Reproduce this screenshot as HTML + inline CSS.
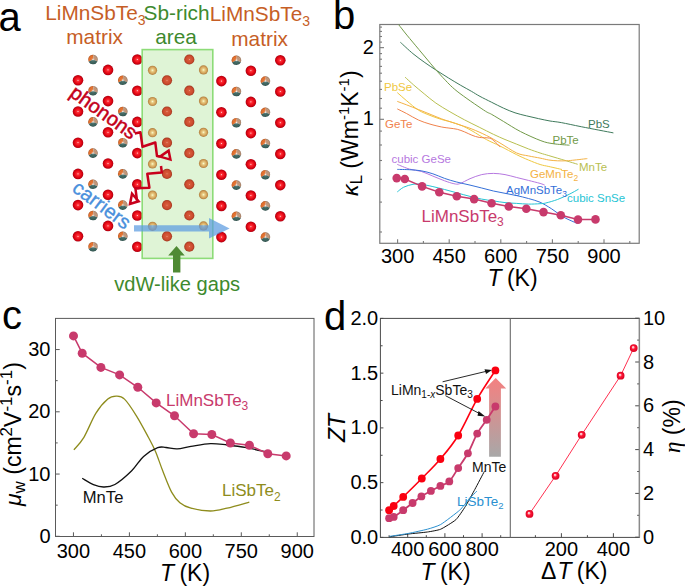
<!DOCTYPE html><html><head><meta charset="utf-8"><style>html,body{margin:0;padding:0;background:#fff;overflow:hidden}svg{display:block}</style></head><body><svg width="685" height="586" viewBox="0 0 685 586" font-family="Liberation Sans, sans-serif">
<defs>
<radialGradient id="gRed" cx="0.5" cy="0.5" r="0.5" fx="0.5" fy="0.5">
 <stop offset="0" stop-color="#ffe0e0"/><stop offset="0.18" stop-color="#ff3038"/><stop offset="0.6" stop-color="#e80a16"/><stop offset="0.9" stop-color="#c00010"/><stop offset="1" stop-color="#a00010"/></radialGradient>
<radialGradient id="gTan" cx="0.5" cy="0.5" r="0.5" fx="0.5" fy="0.5">
 <stop offset="0" stop-color="#fbfad0"/><stop offset="0.3" stop-color="#e8cc84"/><stop offset="0.7" stop-color="#d4a25a"/><stop offset="1" stop-color="#ae7e3e"/></radialGradient>
<radialGradient id="gOr" cx="0.5" cy="0.5" r="0.5" fx="0.5" fy="0.5">
 <stop offset="0" stop-color="#f0a898"/><stop offset="0.16" stop-color="#d85c3c"/><stop offset="0.7" stop-color="#cc4a2e"/><stop offset="1" stop-color="#a03820"/></radialGradient>
<radialGradient id="gShade" cx="0.5" cy="0.5" r="0.5" fx="0.5" fy="0.5">
 <stop offset="0" stop-color="#ffffff" stop-opacity="0.9"/><stop offset="0.25" stop-color="#ffffff" stop-opacity="0.15"/><stop offset="0.75" stop-color="#000000" stop-opacity="0"/><stop offset="1" stop-color="#000000" stop-opacity="0.25"/></radialGradient>
<radialGradient id="gEta" cx="0.5" cy="0.5" r="0.5" fx="0.4" fy="0.36">
 <stop offset="0" stop-color="#ffffff"/><stop offset="0.22" stop-color="#ffb0b8"/><stop offset="0.45" stop-color="#ff1838"/><stop offset="1" stop-color="#d80020"/></radialGradient>
<linearGradient id="gArrow" x1="0" y1="0" x2="0" y2="1">
 <stop offset="0" stop-color="#f48080"/><stop offset="1" stop-color="#a8a8a8"/></linearGradient>
</defs>
<rect x="0" y="0" width="685" height="586" fill="#fff"/>
<rect x="142.2" y="49.6" width="70.6" height="208.8" fill="#dff4d6"/>
<circle cx="78.00" cy="80.30" r="5.3" fill="url(#gRed)"/>
<circle cx="78.00" cy="111.50" r="5.3" fill="url(#gRed)"/>
<circle cx="78.00" cy="142.70" r="5.3" fill="url(#gRed)"/>
<circle cx="78.00" cy="173.90" r="5.3" fill="url(#gRed)"/>
<circle cx="78.00" cy="205.10" r="5.3" fill="url(#gRed)"/>
<circle cx="78.00" cy="236.30" r="5.3" fill="url(#gRed)"/>
<circle cx="108.00" cy="69.90" r="5.3" fill="url(#gRed)"/>
<circle cx="108.00" cy="101.10" r="5.3" fill="url(#gRed)"/>
<circle cx="108.00" cy="132.30" r="5.3" fill="url(#gRed)"/>
<circle cx="108.00" cy="163.50" r="5.3" fill="url(#gRed)"/>
<circle cx="108.00" cy="194.70" r="5.3" fill="url(#gRed)"/>
<circle cx="108.00" cy="225.90" r="5.3" fill="url(#gRed)"/>
<circle cx="137.30" cy="59.50" r="5.3" fill="url(#gRed)"/>
<circle cx="137.30" cy="90.70" r="5.3" fill="url(#gRed)"/>
<circle cx="137.30" cy="121.90" r="5.3" fill="url(#gRed)"/>
<circle cx="137.30" cy="153.10" r="5.3" fill="url(#gRed)"/>
<circle cx="137.30" cy="184.30" r="5.3" fill="url(#gRed)"/>
<circle cx="137.30" cy="215.50" r="5.3" fill="url(#gRed)"/>
<circle cx="137.30" cy="246.70" r="5.3" fill="url(#gRed)"/>
<circle cx="221.40" cy="81.10" r="5.3" fill="url(#gRed)"/>
<circle cx="221.40" cy="112.30" r="5.3" fill="url(#gRed)"/>
<circle cx="221.40" cy="143.50" r="5.3" fill="url(#gRed)"/>
<circle cx="221.40" cy="174.70" r="5.3" fill="url(#gRed)"/>
<circle cx="221.40" cy="205.90" r="5.3" fill="url(#gRed)"/>
<circle cx="221.40" cy="237.10" r="5.3" fill="url(#gRed)"/>
<circle cx="250.90" cy="70.70" r="5.3" fill="url(#gRed)"/>
<circle cx="250.90" cy="101.90" r="5.3" fill="url(#gRed)"/>
<circle cx="250.90" cy="133.10" r="5.3" fill="url(#gRed)"/>
<circle cx="250.90" cy="164.30" r="5.3" fill="url(#gRed)"/>
<circle cx="250.90" cy="195.50" r="5.3" fill="url(#gRed)"/>
<circle cx="250.90" cy="226.70" r="5.3" fill="url(#gRed)"/>
<circle cx="280.30" cy="60.30" r="5.3" fill="url(#gRed)"/>
<circle cx="280.30" cy="91.50" r="5.3" fill="url(#gRed)"/>
<circle cx="280.30" cy="122.70" r="5.3" fill="url(#gRed)"/>
<circle cx="280.30" cy="153.90" r="5.3" fill="url(#gRed)"/>
<circle cx="280.30" cy="185.10" r="5.3" fill="url(#gRed)"/>
<circle cx="280.30" cy="216.30" r="5.3" fill="url(#gRed)"/>
<path d="M93.00,59.50 L88.72,61.68 A4.8,4.8 0 0 1 93.42,54.72 Z" fill="#e8722e"/>
<path d="M93.00,59.50 L93.42,54.72 A4.8,4.8 0 0 1 97.39,61.45 Z" fill="#c4987a"/>
<path d="M93.00,59.50 L97.39,61.45 A4.8,4.8 0 0 1 88.72,61.68 Z" fill="#3e6660"/>
<circle cx="93.00" cy="59.50" r="4.8" fill="url(#gShade)"/>
<path d="M93.00,90.70 L88.72,92.88 A4.8,4.8 0 0 1 93.42,85.92 Z" fill="#e8722e"/>
<path d="M93.00,90.70 L93.42,85.92 A4.8,4.8 0 0 1 97.39,92.65 Z" fill="#c4987a"/>
<path d="M93.00,90.70 L97.39,92.65 A4.8,4.8 0 0 1 88.72,92.88 Z" fill="#3e6660"/>
<circle cx="93.00" cy="90.70" r="4.8" fill="url(#gShade)"/>
<path d="M93.00,121.90 L88.72,124.08 A4.8,4.8 0 0 1 93.42,117.12 Z" fill="#e8722e"/>
<path d="M93.00,121.90 L93.42,117.12 A4.8,4.8 0 0 1 97.39,123.85 Z" fill="#c4987a"/>
<path d="M93.00,121.90 L97.39,123.85 A4.8,4.8 0 0 1 88.72,124.08 Z" fill="#3e6660"/>
<circle cx="93.00" cy="121.90" r="4.8" fill="url(#gShade)"/>
<path d="M93.00,153.10 L88.72,155.28 A4.8,4.8 0 0 1 93.42,148.32 Z" fill="#e8722e"/>
<path d="M93.00,153.10 L93.42,148.32 A4.8,4.8 0 0 1 97.39,155.05 Z" fill="#c4987a"/>
<path d="M93.00,153.10 L97.39,155.05 A4.8,4.8 0 0 1 88.72,155.28 Z" fill="#3e6660"/>
<circle cx="93.00" cy="153.10" r="4.8" fill="url(#gShade)"/>
<path d="M93.00,184.30 L88.72,186.48 A4.8,4.8 0 0 1 93.42,179.52 Z" fill="#e8722e"/>
<path d="M93.00,184.30 L93.42,179.52 A4.8,4.8 0 0 1 97.39,186.25 Z" fill="#c4987a"/>
<path d="M93.00,184.30 L97.39,186.25 A4.8,4.8 0 0 1 88.72,186.48 Z" fill="#3e6660"/>
<circle cx="93.00" cy="184.30" r="4.8" fill="url(#gShade)"/>
<path d="M93.00,215.50 L88.72,217.68 A4.8,4.8 0 0 1 93.42,210.72 Z" fill="#e8722e"/>
<path d="M93.00,215.50 L93.42,210.72 A4.8,4.8 0 0 1 97.39,217.45 Z" fill="#c4987a"/>
<path d="M93.00,215.50 L97.39,217.45 A4.8,4.8 0 0 1 88.72,217.68 Z" fill="#3e6660"/>
<circle cx="93.00" cy="215.50" r="4.8" fill="url(#gShade)"/>
<path d="M93.00,246.70 L88.72,248.88 A4.8,4.8 0 0 1 93.42,241.92 Z" fill="#e8722e"/>
<path d="M93.00,246.70 L93.42,241.92 A4.8,4.8 0 0 1 97.39,248.65 Z" fill="#c4987a"/>
<path d="M93.00,246.70 L97.39,248.65 A4.8,4.8 0 0 1 88.72,248.88 Z" fill="#3e6660"/>
<circle cx="93.00" cy="246.70" r="4.8" fill="url(#gShade)"/>
<path d="M122.80,80.30 L118.52,82.48 A4.8,4.8 0 0 1 123.22,75.52 Z" fill="#e8722e"/>
<path d="M122.80,80.30 L123.22,75.52 A4.8,4.8 0 0 1 127.19,82.25 Z" fill="#c4987a"/>
<path d="M122.80,80.30 L127.19,82.25 A4.8,4.8 0 0 1 118.52,82.48 Z" fill="#3e6660"/>
<circle cx="122.80" cy="80.30" r="4.8" fill="url(#gShade)"/>
<path d="M122.80,111.50 L118.52,113.68 A4.8,4.8 0 0 1 123.22,106.72 Z" fill="#e8722e"/>
<path d="M122.80,111.50 L123.22,106.72 A4.8,4.8 0 0 1 127.19,113.45 Z" fill="#c4987a"/>
<path d="M122.80,111.50 L127.19,113.45 A4.8,4.8 0 0 1 118.52,113.68 Z" fill="#3e6660"/>
<circle cx="122.80" cy="111.50" r="4.8" fill="url(#gShade)"/>
<path d="M122.80,142.70 L118.52,144.88 A4.8,4.8 0 0 1 123.22,137.92 Z" fill="#e8722e"/>
<path d="M122.80,142.70 L123.22,137.92 A4.8,4.8 0 0 1 127.19,144.65 Z" fill="#c4987a"/>
<path d="M122.80,142.70 L127.19,144.65 A4.8,4.8 0 0 1 118.52,144.88 Z" fill="#3e6660"/>
<circle cx="122.80" cy="142.70" r="4.8" fill="url(#gShade)"/>
<path d="M122.80,173.90 L118.52,176.08 A4.8,4.8 0 0 1 123.22,169.12 Z" fill="#e8722e"/>
<path d="M122.80,173.90 L123.22,169.12 A4.8,4.8 0 0 1 127.19,175.85 Z" fill="#c4987a"/>
<path d="M122.80,173.90 L127.19,175.85 A4.8,4.8 0 0 1 118.52,176.08 Z" fill="#3e6660"/>
<circle cx="122.80" cy="173.90" r="4.8" fill="url(#gShade)"/>
<path d="M122.80,205.10 L118.52,207.28 A4.8,4.8 0 0 1 123.22,200.32 Z" fill="#e8722e"/>
<path d="M122.80,205.10 L123.22,200.32 A4.8,4.8 0 0 1 127.19,207.05 Z" fill="#c4987a"/>
<path d="M122.80,205.10 L127.19,207.05 A4.8,4.8 0 0 1 118.52,207.28 Z" fill="#3e6660"/>
<circle cx="122.80" cy="205.10" r="4.8" fill="url(#gShade)"/>
<path d="M122.80,236.30 L118.52,238.48 A4.8,4.8 0 0 1 123.22,231.52 Z" fill="#e8722e"/>
<path d="M122.80,236.30 L123.22,231.52 A4.8,4.8 0 0 1 127.19,238.25 Z" fill="#c4987a"/>
<path d="M122.80,236.30 L127.19,238.25 A4.8,4.8 0 0 1 118.52,238.48 Z" fill="#3e6660"/>
<circle cx="122.80" cy="236.30" r="4.8" fill="url(#gShade)"/>
<path d="M236.40,60.30 L232.12,62.48 A4.8,4.8 0 0 1 236.82,55.52 Z" fill="#e8722e"/>
<path d="M236.40,60.30 L236.82,55.52 A4.8,4.8 0 0 1 240.79,62.25 Z" fill="#c4987a"/>
<path d="M236.40,60.30 L240.79,62.25 A4.8,4.8 0 0 1 232.12,62.48 Z" fill="#3e6660"/>
<circle cx="236.40" cy="60.30" r="4.8" fill="url(#gShade)"/>
<path d="M236.40,91.50 L232.12,93.68 A4.8,4.8 0 0 1 236.82,86.72 Z" fill="#e8722e"/>
<path d="M236.40,91.50 L236.82,86.72 A4.8,4.8 0 0 1 240.79,93.45 Z" fill="#c4987a"/>
<path d="M236.40,91.50 L240.79,93.45 A4.8,4.8 0 0 1 232.12,93.68 Z" fill="#3e6660"/>
<circle cx="236.40" cy="91.50" r="4.8" fill="url(#gShade)"/>
<path d="M236.40,122.70 L232.12,124.88 A4.8,4.8 0 0 1 236.82,117.92 Z" fill="#e8722e"/>
<path d="M236.40,122.70 L236.82,117.92 A4.8,4.8 0 0 1 240.79,124.65 Z" fill="#c4987a"/>
<path d="M236.40,122.70 L240.79,124.65 A4.8,4.8 0 0 1 232.12,124.88 Z" fill="#3e6660"/>
<circle cx="236.40" cy="122.70" r="4.8" fill="url(#gShade)"/>
<path d="M236.40,153.90 L232.12,156.08 A4.8,4.8 0 0 1 236.82,149.12 Z" fill="#e8722e"/>
<path d="M236.40,153.90 L236.82,149.12 A4.8,4.8 0 0 1 240.79,155.85 Z" fill="#c4987a"/>
<path d="M236.40,153.90 L240.79,155.85 A4.8,4.8 0 0 1 232.12,156.08 Z" fill="#3e6660"/>
<circle cx="236.40" cy="153.90" r="4.8" fill="url(#gShade)"/>
<path d="M236.40,185.10 L232.12,187.28 A4.8,4.8 0 0 1 236.82,180.32 Z" fill="#e8722e"/>
<path d="M236.40,185.10 L236.82,180.32 A4.8,4.8 0 0 1 240.79,187.05 Z" fill="#c4987a"/>
<path d="M236.40,185.10 L240.79,187.05 A4.8,4.8 0 0 1 232.12,187.28 Z" fill="#3e6660"/>
<circle cx="236.40" cy="185.10" r="4.8" fill="url(#gShade)"/>
<path d="M236.40,216.30 L232.12,218.48 A4.8,4.8 0 0 1 236.82,211.52 Z" fill="#e8722e"/>
<path d="M236.40,216.30 L236.82,211.52 A4.8,4.8 0 0 1 240.79,218.25 Z" fill="#c4987a"/>
<path d="M236.40,216.30 L240.79,218.25 A4.8,4.8 0 0 1 232.12,218.48 Z" fill="#3e6660"/>
<circle cx="236.40" cy="216.30" r="4.8" fill="url(#gShade)"/>
<path d="M265.40,81.10 L261.12,83.28 A4.8,4.8 0 0 1 265.82,76.32 Z" fill="#e8722e"/>
<path d="M265.40,81.10 L265.82,76.32 A4.8,4.8 0 0 1 269.79,83.05 Z" fill="#c4987a"/>
<path d="M265.40,81.10 L269.79,83.05 A4.8,4.8 0 0 1 261.12,83.28 Z" fill="#3e6660"/>
<circle cx="265.40" cy="81.10" r="4.8" fill="url(#gShade)"/>
<path d="M265.40,112.30 L261.12,114.48 A4.8,4.8 0 0 1 265.82,107.52 Z" fill="#e8722e"/>
<path d="M265.40,112.30 L265.82,107.52 A4.8,4.8 0 0 1 269.79,114.25 Z" fill="#c4987a"/>
<path d="M265.40,112.30 L269.79,114.25 A4.8,4.8 0 0 1 261.12,114.48 Z" fill="#3e6660"/>
<circle cx="265.40" cy="112.30" r="4.8" fill="url(#gShade)"/>
<path d="M265.40,143.50 L261.12,145.68 A4.8,4.8 0 0 1 265.82,138.72 Z" fill="#e8722e"/>
<path d="M265.40,143.50 L265.82,138.72 A4.8,4.8 0 0 1 269.79,145.45 Z" fill="#c4987a"/>
<path d="M265.40,143.50 L269.79,145.45 A4.8,4.8 0 0 1 261.12,145.68 Z" fill="#3e6660"/>
<circle cx="265.40" cy="143.50" r="4.8" fill="url(#gShade)"/>
<path d="M265.40,174.70 L261.12,176.88 A4.8,4.8 0 0 1 265.82,169.92 Z" fill="#e8722e"/>
<path d="M265.40,174.70 L265.82,169.92 A4.8,4.8 0 0 1 269.79,176.65 Z" fill="#c4987a"/>
<path d="M265.40,174.70 L269.79,176.65 A4.8,4.8 0 0 1 261.12,176.88 Z" fill="#3e6660"/>
<circle cx="265.40" cy="174.70" r="4.8" fill="url(#gShade)"/>
<path d="M265.40,205.90 L261.12,208.08 A4.8,4.8 0 0 1 265.82,201.12 Z" fill="#e8722e"/>
<path d="M265.40,205.90 L265.82,201.12 A4.8,4.8 0 0 1 269.79,207.85 Z" fill="#c4987a"/>
<path d="M265.40,205.90 L269.79,207.85 A4.8,4.8 0 0 1 261.12,208.08 Z" fill="#3e6660"/>
<circle cx="265.40" cy="205.90" r="4.8" fill="url(#gShade)"/>
<path d="M265.40,237.10 L261.12,239.28 A4.8,4.8 0 0 1 265.82,232.32 Z" fill="#e8722e"/>
<path d="M265.40,237.10 L265.82,232.32 A4.8,4.8 0 0 1 269.79,239.05 Z" fill="#c4987a"/>
<path d="M265.40,237.10 L269.79,239.05 A4.8,4.8 0 0 1 261.12,239.28 Z" fill="#3e6660"/>
<circle cx="265.40" cy="237.10" r="4.8" fill="url(#gShade)"/>
<circle cx="152.50" cy="70.30" r="4.6" fill="url(#gTan)"/>
<circle cx="152.50" cy="101.50" r="4.6" fill="url(#gTan)"/>
<circle cx="152.50" cy="132.70" r="4.6" fill="url(#gTan)"/>
<circle cx="152.50" cy="163.90" r="4.6" fill="url(#gTan)"/>
<circle cx="152.50" cy="195.10" r="4.6" fill="url(#gTan)"/>
<circle cx="152.50" cy="226.30" r="4.6" fill="url(#gTan)"/>
<circle cx="203.50" cy="69.90" r="4.6" fill="url(#gTan)"/>
<circle cx="203.50" cy="101.10" r="4.6" fill="url(#gTan)"/>
<circle cx="203.50" cy="132.30" r="4.6" fill="url(#gTan)"/>
<circle cx="203.50" cy="163.50" r="4.6" fill="url(#gTan)"/>
<circle cx="203.50" cy="194.70" r="4.6" fill="url(#gTan)"/>
<circle cx="203.50" cy="225.90" r="4.6" fill="url(#gTan)"/>
<circle cx="167.00" cy="80.30" r="5.1" fill="url(#gOr)"/>
<circle cx="167.00" cy="111.50" r="5.1" fill="url(#gOr)"/>
<circle cx="167.00" cy="142.70" r="5.1" fill="url(#gOr)"/>
<circle cx="167.00" cy="173.90" r="5.1" fill="url(#gOr)"/>
<circle cx="167.00" cy="205.10" r="5.1" fill="url(#gOr)"/>
<circle cx="167.00" cy="236.30" r="5.1" fill="url(#gOr)"/>
<circle cx="189.30" cy="59.50" r="5.1" fill="url(#gOr)"/>
<circle cx="189.30" cy="90.70" r="5.1" fill="url(#gOr)"/>
<circle cx="189.30" cy="121.90" r="5.1" fill="url(#gOr)"/>
<circle cx="189.30" cy="153.10" r="5.1" fill="url(#gOr)"/>
<circle cx="189.30" cy="184.30" r="5.1" fill="url(#gOr)"/>
<circle cx="189.30" cy="215.50" r="5.1" fill="url(#gOr)"/>
<circle cx="189.30" cy="246.70" r="5.1" fill="url(#gOr)"/>
<rect x="142.2" y="49.6" width="70.6" height="208.8" fill="none" stroke="#8ddc78" stroke-width="1.6"/>
<text x="-1.6" y="30.5" font-size="40" fill="#000">a</text>
<text x="45.3" y="19.5" font-size="20.8" fill="#c65e26">LiMnSbTe<tspan font-size="14" dy="5.1">3</tspan></text>
<text x="143.6" y="19.5" font-size="20.8" fill="#3e8a2e">Sb-rich</text>
<text x="209.8" y="20.8" font-size="20.8" fill="#c65e26">LiMnSbTe<tspan font-size="14" dy="5.6">3</tspan></text>
<text x="94.6" y="43.5" font-size="20.8" fill="#c65e26" text-anchor="middle">matrix</text>
<text x="176" y="43.5" font-size="20.8" fill="#3e8a2e" text-anchor="middle">area</text>
<text x="259.6" y="45.8" font-size="20.8" fill="#c65e26" text-anchor="middle">matrix</text>
<text x="0" y="0" font-size="20" fill="#c4001a" stroke="#c4001a" stroke-width="0.5" transform="translate(68.4,95.6) rotate(35.4)">phonons</text>
<text x="0" y="0" font-size="20" fill="#4a90dc" stroke="#4a90dc" stroke-width="0.35" transform="translate(71,190.5) rotate(36.5)">carriers</text>
<path d="M134.8,133.5 L140.4,132.3 L142.5,146.8 L155.3,142.5 L157,156.1 L160,156.6" fill="none" stroke="#c8001c" stroke-width="2.5" stroke-linejoin="round"/>
<path d="M160,156.6 L168.6,150.6 L170.4,159.6 Z" fill="none" stroke="#c8001c" stroke-width="2.5" stroke-linejoin="miter"/>
<path d="M161,166 L161.8,172.4 L147.3,173.7 L149.4,187.7 L135.4,188.2 L137,200.5" fill="none" stroke="#c8001c" stroke-width="2.5" stroke-linejoin="round"/>
<path d="M138.6,201.3 L132,193.7 L130,204 Z" fill="none" stroke="#c8001c" stroke-width="2.5"/>
<path d="M134,225.3 L209,225.3 L209,218 L229.6,228.4 L209,238.6 L209,231.6 L134,231.6 Z" fill="#5b9be0" fill-opacity="0.72"/>
<path d="M173,272.5 L173,255.5 L168.2,255.5 L176.5,246 L184.7,255.5 L180.4,255.5 L180.4,272.5 Z" fill="#4f8a34"/>
<text x="177.2" y="290.6" font-size="20.1" fill="#3e8a2e" text-anchor="middle">vdW-like gaps</text>
<text x="333" y="29.3" font-size="40" fill="#000">b</text>
<line x1="397.60" y1="243.3" x2="397.60" y2="239.3" stroke="#7a7a7a" stroke-width="1.1"/>
<text x="397.60" y="263" font-size="20" fill="#000" text-anchor="middle" >300</text>
<line x1="449.20" y1="243.3" x2="449.20" y2="239.3" stroke="#7a7a7a" stroke-width="1.1"/>
<text x="449.20" y="263" font-size="20" fill="#000" text-anchor="middle" >450</text>
<line x1="500.80" y1="243.3" x2="500.80" y2="239.3" stroke="#7a7a7a" stroke-width="1.1"/>
<text x="500.80" y="263" font-size="20" fill="#000" text-anchor="middle" >600</text>
<line x1="552.40" y1="243.3" x2="552.40" y2="239.3" stroke="#7a7a7a" stroke-width="1.1"/>
<text x="552.40" y="263" font-size="20" fill="#000" text-anchor="middle" >750</text>
<line x1="604.00" y1="243.3" x2="604.00" y2="239.3" stroke="#7a7a7a" stroke-width="1.1"/>
<text x="604.00" y="263" font-size="20" fill="#000" text-anchor="middle" >900</text>
<line x1="423.40" y1="243.3" x2="423.40" y2="241.10000000000002" stroke="#7a7a7a" stroke-width="1.1"/>
<line x1="475.00" y1="243.3" x2="475.00" y2="241.10000000000002" stroke="#7a7a7a" stroke-width="1.1"/>
<line x1="526.60" y1="243.3" x2="526.60" y2="241.10000000000002" stroke="#7a7a7a" stroke-width="1.1"/>
<line x1="578.20" y1="243.3" x2="578.20" y2="241.10000000000002" stroke="#7a7a7a" stroke-width="1.1"/>
<line x1="629.80" y1="243.3" x2="629.80" y2="241.10000000000002" stroke="#7a7a7a" stroke-width="1.1"/>
<line x1="379.8" y1="119.30" x2="384.0" y2="119.30" stroke="#7a7a7a" stroke-width="1.1"/>
<text x="373.8" y="125.30" font-size="20" fill="#000" text-anchor="end" >1</text>
<line x1="379.8" y1="47.65" x2="384.0" y2="47.65" stroke="#7a7a7a" stroke-width="1.1"/>
<text x="373.8" y="53.65" font-size="20" fill="#000" text-anchor="end" >2</text>
<line x1="379.8" y1="27.1" x2="382.0" y2="27.1" stroke="#7a7a7a" stroke-width="1.1"/>
<line x1="379.8" y1="31.4" x2="382.0" y2="31.4" stroke="#7a7a7a" stroke-width="1.1"/>
<line x1="379.8" y1="36.5" x2="382.0" y2="36.5" stroke="#7a7a7a" stroke-width="1.1"/>
<line x1="379.8" y1="42.1" x2="382.0" y2="42.1" stroke="#7a7a7a" stroke-width="1.1"/>
<line x1="379.8" y1="53.6" x2="382.0" y2="53.6" stroke="#7a7a7a" stroke-width="1.1"/>
<line x1="379.8" y1="59.2" x2="382.0" y2="59.2" stroke="#7a7a7a" stroke-width="1.1"/>
<line x1="379.8" y1="66.4" x2="382.0" y2="66.4" stroke="#7a7a7a" stroke-width="1.1"/>
<line x1="379.8" y1="73.2" x2="382.0" y2="73.2" stroke="#7a7a7a" stroke-width="1.1"/>
<line x1="379.8" y1="81.2" x2="382.0" y2="81.2" stroke="#7a7a7a" stroke-width="1.1"/>
<line x1="379.8" y1="89.4" x2="382.0" y2="89.4" stroke="#7a7a7a" stroke-width="1.1"/>
<line x1="379.8" y1="98.5" x2="382.0" y2="98.5" stroke="#7a7a7a" stroke-width="1.1"/>
<line x1="379.8" y1="108.2" x2="382.0" y2="108.2" stroke="#7a7a7a" stroke-width="1.1"/>
<line x1="379.8" y1="131.1" x2="382.0" y2="131.1" stroke="#7a7a7a" stroke-width="1.1"/>
<line x1="379.8" y1="145" x2="382.0" y2="145" stroke="#7a7a7a" stroke-width="1.1"/>
<line x1="379.8" y1="160.5" x2="382.0" y2="160.5" stroke="#7a7a7a" stroke-width="1.1"/>
<line x1="379.8" y1="179.3" x2="382.0" y2="179.3" stroke="#7a7a7a" stroke-width="1.1"/>
<line x1="379.8" y1="202.1" x2="382.0" y2="202.1" stroke="#7a7a7a" stroke-width="1.1"/>
<line x1="379.8" y1="232" x2="382.0" y2="232" stroke="#7a7a7a" stroke-width="1.1"/>
<rect x="379.8" y="24.5" width="259.40000000000003" height="218.8" fill="none" stroke="#7a7a7a" stroke-width="1.2"/>
<text x="0" y="0" font-size="23" fill="#000" transform="translate(357.5,196) rotate(-90)"><tspan font-style="italic">κ</tspan><tspan font-size="17" dy="4">L</tspan><tspan dy="-4"> (Wm</tspan><tspan font-size="15" dy="-9">-1</tspan><tspan dy="9">K</tspan><tspan font-size="15" dy="-9">-1</tspan><tspan dy="9">)</tspan></text>
<text x="0" y="286" font-size="23" fill="#000"><tspan x="487.5" font-style="italic">T</tspan><tspan dx="-1"> (K)</tspan></text>
<path d="M400.40,42.30 C402.48,44.18 408.82,50.22 412.90,53.60 C416.98,56.98 421.12,59.90 424.90,62.60 C428.68,65.30 431.63,67.22 435.60,69.80 C439.57,72.38 444.52,75.52 448.70,78.10 C452.88,80.68 456.92,83.10 460.70,85.30 C464.48,87.50 468.18,89.45 471.40,91.30 C474.62,93.15 476.62,94.57 480.00,96.40 C483.38,98.23 487.80,100.35 491.70,102.30 C495.60,104.25 499.52,106.35 503.40,108.10 C507.28,109.85 511.12,111.50 515.00,112.80 C518.88,114.10 522.80,114.93 526.70,115.90 C530.60,116.87 534.52,117.75 538.40,118.60 C542.28,119.45 546.18,120.33 550.00,121.00 C553.82,121.67 556.02,121.63 561.30,122.60 C566.58,123.57 573.02,125.08 581.70,126.80 C590.38,128.52 608.12,131.88 613.40,132.90" fill="none" stroke="#3f7a5c" stroke-width="1.0"/>
<path d="M398.60,24.60 C399.98,26.35 403.52,30.95 406.90,35.10 C410.28,39.25 414.92,44.72 418.90,49.50 C422.88,54.28 426.82,59.13 430.80,63.80 C434.78,68.47 438.42,72.92 442.80,77.50 C447.18,82.08 450.30,85.88 457.10,91.30 C463.90,96.72 477.83,106.15 483.60,110.00 C489.37,113.85 488.40,112.50 491.70,114.40 C495.00,116.30 498.62,118.55 503.40,121.40 C508.18,124.25 514.15,128.28 520.40,131.50 C526.65,134.72 535.45,138.67 540.90,140.70 C546.35,142.73 548.33,142.95 553.10,143.70 C557.87,144.45 566.77,144.95 569.50,145.20" fill="none" stroke="#729a48" stroke-width="1.0"/>
<path d="M405.10,77.20 C406.53,78.50 410.52,82.23 413.70,85.00 C416.88,87.77 420.50,90.78 424.20,93.80 C427.90,96.82 431.60,100.10 435.90,103.10 C440.20,106.10 445.22,109.00 450.00,111.80 C454.78,114.60 459.73,117.33 464.60,119.90 C469.47,122.47 474.40,124.80 479.20,127.20 C484.00,129.60 489.10,132.25 493.40,134.30 C497.70,136.35 501.12,137.85 505.00,139.50 C508.88,141.15 512.80,142.63 516.70,144.20 C520.60,145.77 524.50,147.43 528.40,148.90 C532.30,150.37 536.70,151.88 540.10,153.00 C543.50,154.12 545.90,154.73 548.80,155.60 C551.70,156.47 554.58,157.33 557.50,158.20 C560.42,159.07 562.93,159.78 566.30,160.80 C569.67,161.82 575.80,163.72 577.70,164.30" fill="none" stroke="#b9c050" stroke-width="1.0"/>
<path d="M397.30,92.60 C398.87,93.97 403.18,97.88 406.70,100.80 C410.22,103.72 414.52,107.67 418.40,110.10 C422.28,112.53 426.12,113.83 430.00,115.40 C433.88,116.97 438.37,118.45 441.70,119.50 C445.03,120.55 446.78,120.73 450.00,121.70 C453.22,122.67 457.35,123.78 461.00,125.30 C464.65,126.82 467.65,128.42 471.90,130.80 C476.15,133.18 481.82,137.07 486.50,139.60 C491.18,142.13 494.97,143.48 500.00,146.00 C505.03,148.52 511.97,152.37 516.70,154.70 C521.43,157.03 524.50,158.37 528.40,160.00 C532.30,161.63 536.70,163.42 540.10,164.50 C543.50,165.58 545.15,165.67 548.80,166.50 C552.45,167.33 559.80,169.00 562.00,169.50" fill="none" stroke="#efc840" stroke-width="1.0"/>
<path d="M397.30,101.40 C398.87,101.98 403.18,103.55 406.70,104.90 C410.22,106.25 414.52,107.95 418.40,109.50 C422.28,111.05 426.12,112.63 430.00,114.20 C433.88,115.77 438.37,117.65 441.70,118.90 C445.03,120.15 446.78,120.63 450.00,121.70 C453.22,122.77 457.35,124.08 461.00,125.30 C464.65,126.52 467.65,127.30 471.90,129.00 C476.15,130.70 481.82,133.17 486.50,135.50 C491.18,137.83 494.97,140.08 500.00,143.00 C505.03,145.92 511.97,150.85 516.70,153.00 C521.43,155.15 524.50,155.05 528.40,155.90 C532.30,156.75 536.70,157.42 540.10,158.10 C543.50,158.78 545.90,159.55 548.80,160.00 C551.70,160.45 554.58,160.67 557.50,160.80 C560.42,160.93 563.38,160.93 566.30,160.80 C569.22,160.67 571.50,160.37 575.00,160.00 C578.50,159.63 585.25,158.83 587.30,158.60" fill="none" stroke="#f4b244" stroke-width="1.0"/>
<path d="M397.30,108.90 C398.87,109.68 403.18,111.75 406.70,113.60 C410.22,115.45 414.52,118.25 418.40,120.00 C422.28,121.75 426.12,122.93 430.00,124.10 C433.88,125.27 438.37,126.32 441.70,127.00 C445.03,127.68 447.40,127.82 450.00,128.20 C452.60,128.58 454.87,128.68 457.30,129.30 C459.73,129.92 462.17,130.92 464.60,131.90 C467.03,132.88 469.47,134.28 471.90,135.20 C474.33,136.12 476.28,136.92 479.20,137.40 C482.12,137.88 486.97,137.55 489.40,138.10 C491.83,138.65 491.97,139.20 493.80,140.70 C495.63,142.20 499.30,146.03 500.40,147.10" fill="none" stroke="#f0824c" stroke-width="1.0"/>
<path d="M397.30,164.40 C399.33,165.18 405.52,167.93 409.50,169.10 C413.48,170.27 417.30,170.23 421.20,171.40 C425.10,172.57 429.00,174.53 432.90,176.10 C436.80,177.67 441.10,179.53 444.60,180.80 C448.10,182.07 451.38,183.22 453.90,183.70 C456.42,184.18 457.02,184.53 459.70,183.70 C462.38,182.87 466.33,180.22 470.00,178.70 C473.67,177.18 477.80,175.48 481.70,174.60 C485.60,173.72 489.52,173.40 493.40,173.40 C497.28,173.40 501.12,173.92 505.00,174.60 C508.88,175.28 512.80,176.53 516.70,177.50 C520.60,178.47 524.50,179.42 528.40,180.40 C532.30,181.38 537.38,182.62 540.10,183.40 C542.82,184.18 543.93,184.82 544.70,185.10" fill="none" stroke="#b678e0" stroke-width="1.0"/>
<path d="M397.30,169.40 C399.33,169.45 405.52,169.47 409.50,169.70 C413.48,169.93 417.30,170.12 421.20,170.80 C425.10,171.48 429.00,172.53 432.90,173.80 C436.80,175.07 440.72,177.05 444.60,178.40 C448.48,179.75 451.97,180.78 456.20,181.90 C460.43,183.02 465.75,184.08 470.00,185.10 C474.25,186.12 477.80,187.02 481.70,188.00 C485.60,188.98 489.52,190.12 493.40,191.00 C497.28,191.88 501.12,192.53 505.00,193.30 C508.88,194.07 512.80,194.73 516.70,195.60 C520.60,196.47 524.52,197.40 528.40,198.50 C532.28,199.60 536.12,200.47 540.00,202.20 C543.88,203.93 547.80,206.43 551.70,208.90 C555.60,211.37 559.12,214.57 563.40,217.00 C567.68,219.43 575.07,222.42 577.40,223.50" fill="none" stroke="#3570d8" stroke-width="1.0"/>
<path d="M397.30,191.90 C398.37,191.12 401.08,188.47 403.70,187.20 C406.32,185.93 410.08,184.78 413.00,184.30 C415.92,183.82 417.88,183.92 421.20,184.30 C424.52,184.68 429.00,185.73 432.90,186.60 C436.80,187.47 440.52,188.43 444.60,189.50 C448.68,190.57 453.17,191.85 457.40,193.00 C461.63,194.15 465.95,195.38 470.00,196.40 C474.05,197.42 477.80,198.35 481.70,199.10 C485.60,199.85 489.52,200.32 493.40,200.90 C497.28,201.48 501.12,202.18 505.00,202.60 C508.88,203.02 512.80,203.15 516.70,203.40 C520.60,203.65 524.52,204.05 528.40,204.10 C532.28,204.15 537.10,203.88 540.00,203.70 C542.90,203.52 542.88,203.70 545.80,203.00 C548.72,202.30 553.60,200.95 557.50,199.50 C561.40,198.05 565.70,196.02 569.20,194.30 C572.70,192.58 576.95,190.05 578.50,189.20" fill="none" stroke="#26c4d4" stroke-width="1.0"/>
<path d="M396.70,178.10 L404.80,179.00 L422.10,186.40 L439.30,192.20 L456.80,196.30 L474.10,199.10 L491.60,203.20 L508.80,206.50 L526.30,208.80 L543.50,212.10 L560.80,215.30 L578.00,219.60 L595.50,219.40" fill="none" stroke="#c83a6c" stroke-width="1.5"/>
<circle cx="396.7" cy="178.1" r="4.3" fill="#c83a6c"/>
<circle cx="404.8" cy="179" r="4.3" fill="#c83a6c"/>
<circle cx="422.1" cy="186.4" r="4.3" fill="#c83a6c"/>
<circle cx="439.3" cy="192.2" r="4.3" fill="#c83a6c"/>
<circle cx="456.8" cy="196.3" r="4.3" fill="#c83a6c"/>
<circle cx="474.1" cy="199.1" r="4.3" fill="#c83a6c"/>
<circle cx="491.6" cy="203.2" r="4.3" fill="#c83a6c"/>
<circle cx="508.8" cy="206.5" r="4.3" fill="#c83a6c"/>
<circle cx="526.3" cy="208.8" r="4.3" fill="#c83a6c"/>
<circle cx="543.5" cy="212.1" r="4.3" fill="#c83a6c"/>
<circle cx="560.8" cy="215.3" r="4.3" fill="#c83a6c"/>
<circle cx="578" cy="219.6" r="4.3" fill="#c83a6c"/>
<circle cx="595.5" cy="219.4" r="4.3" fill="#c83a6c"/>
<text x="384" y="90.5" font-size="11.5" fill="#efc840" text-anchor="start" >PbSe</text>
<text x="385" y="127.7" font-size="11.5" fill="#f0824c" text-anchor="start" >GeTe</text>
<text x="391.5" y="163" font-size="11.5" fill="#b678e0" text-anchor="start" >cubic GeSe</text>
<text x="588" y="128.4" font-size="11.5" fill="#3f7a5c" text-anchor="start" >PbS</text>
<text x="552.5" y="144.2" font-size="11.5" fill="#729a48" text-anchor="start" >PbTe</text>
<text x="579" y="170.7" font-size="11.5" fill="#b9c050" text-anchor="start" >MnTe</text>
<text x="530" y="177.5" font-size="11.5" fill="#f4b244">GeMnTe<tspan font-size="8.5" dy="3">2</tspan></text>
<text x="506" y="193.7" font-size="11.5" fill="#3570d8">AgMnSbTe<tspan font-size="8.5" dy="3">3</tspan></text>
<text x="567" y="201.9" font-size="11.5" fill="#26c4d4" text-anchor="start" >cubic SnSe</text>
<text x="421.5" y="222" font-size="17" fill="#c83a6c">LiMnSbTe<tspan font-size="12" dy="3.5">3</tspan></text>
<text x="2" y="328.6" font-size="40" fill="#000">c</text>
<line x1="73.45" y1="536.5" x2="73.45" y2="532.3" stroke="#5a5a5a" stroke-width="1.0"/>
<text x="73.45" y="557.5" font-size="20" fill="#000" text-anchor="middle" >300</text>
<line x1="129.40" y1="536.5" x2="129.40" y2="532.3" stroke="#5a5a5a" stroke-width="1.0"/>
<text x="129.40" y="557.5" font-size="20" fill="#000" text-anchor="middle" >450</text>
<line x1="185.35" y1="536.5" x2="185.35" y2="532.3" stroke="#5a5a5a" stroke-width="1.0"/>
<text x="185.35" y="557.5" font-size="20" fill="#000" text-anchor="middle" >600</text>
<line x1="241.30" y1="536.5" x2="241.30" y2="532.3" stroke="#5a5a5a" stroke-width="1.0"/>
<text x="241.30" y="557.5" font-size="20" fill="#000" text-anchor="middle" >750</text>
<line x1="297.25" y1="536.5" x2="297.25" y2="532.3" stroke="#5a5a5a" stroke-width="1.0"/>
<text x="297.25" y="557.5" font-size="20" fill="#000" text-anchor="middle" >900</text>
<line x1="101.43" y1="536.5" x2="101.43" y2="534.3" stroke="#5a5a5a" stroke-width="1.0"/>
<line x1="157.38" y1="536.5" x2="157.38" y2="534.3" stroke="#5a5a5a" stroke-width="1.0"/>
<line x1="213.32" y1="536.5" x2="213.32" y2="534.3" stroke="#5a5a5a" stroke-width="1.0"/>
<line x1="269.27" y1="536.5" x2="269.27" y2="534.3" stroke="#5a5a5a" stroke-width="1.0"/>
<line x1="55.5" y1="536.30" x2="59.7" y2="536.30" stroke="#5a5a5a" stroke-width="1.0"/>
<text x="50.5" y="542.80" font-size="20" fill="#000" text-anchor="end" >0</text>
<line x1="55.5" y1="474.05" x2="59.7" y2="474.05" stroke="#5a5a5a" stroke-width="1.0"/>
<text x="50.5" y="480.55" font-size="20" fill="#000" text-anchor="end" >10</text>
<line x1="55.5" y1="411.80" x2="59.7" y2="411.80" stroke="#5a5a5a" stroke-width="1.0"/>
<text x="50.5" y="418.30" font-size="20" fill="#000" text-anchor="end" >20</text>
<line x1="55.5" y1="349.55" x2="59.7" y2="349.55" stroke="#5a5a5a" stroke-width="1.0"/>
<text x="50.5" y="356.05" font-size="20" fill="#000" text-anchor="end" >30</text>
<line x1="55.5" y1="505.17" x2="57.7" y2="505.17" stroke="#5a5a5a" stroke-width="1.0"/>
<line x1="55.5" y1="442.92" x2="57.7" y2="442.92" stroke="#5a5a5a" stroke-width="1.0"/>
<line x1="55.5" y1="380.67" x2="57.7" y2="380.67" stroke="#5a5a5a" stroke-width="1.0"/>
<rect x="55.5" y="318.4" width="258.5" height="218.10000000000002" fill="none" stroke="#5a5a5a" stroke-width="1.0"/>
<text x="0" y="0" font-size="23" fill="#000" transform="translate(20.5,506) rotate(-90)"><tspan font-style="italic">μ</tspan><tspan font-size="17" dy="4">w</tspan><tspan dy="-4"> (cm</tspan><tspan font-size="17" dy="-9">2</tspan><tspan dy="9">V</tspan><tspan font-size="17" dy="-9">-1</tspan><tspan dy="9">s</tspan><tspan font-size="17" dy="-9">-1</tspan><tspan dy="9">)</tspan></text>
<text x="0" y="580.5" font-size="23" fill="#000"><tspan x="160" font-style="italic">T</tspan><tspan dx="-1"> (K)</tspan></text>
<path d="M73.90,449.80 C75.57,447.72 80.25,443.37 83.90,437.30 C87.55,431.23 91.82,419.77 95.80,413.40 C99.78,407.03 104.42,401.97 107.80,399.10 C111.18,396.23 113.32,396.20 116.10,396.20 C118.88,396.20 121.12,395.83 124.50,399.10 C127.88,402.37 132.42,409.43 136.40,415.80 C140.38,422.17 145.20,431.32 148.40,437.30 C151.60,443.28 153.22,446.12 155.60,451.70 C157.98,457.28 160.03,464.07 162.70,470.80 C165.37,477.53 168.73,486.78 171.60,492.10 C174.47,497.42 176.67,500.02 179.90,502.70 C183.13,505.38 185.92,506.82 191.00,508.20 C196.08,509.58 204.38,511.00 210.40,511.00 C216.42,511.00 220.62,509.68 227.10,508.20 C233.58,506.72 245.60,503.12 249.30,502.10" fill="none" stroke="#8e8c1c" stroke-width="1.3"/>
<path d="M82.20,478.30 C84.07,479.35 89.85,483.15 93.40,484.60 C96.95,486.05 99.92,487.02 103.50,487.00 C107.08,486.98 110.20,487.20 114.90,484.50 C119.60,481.80 126.92,475.48 131.70,470.80 C136.48,466.12 139.27,460.25 143.60,456.40 C147.93,452.55 153.97,449.18 157.70,447.70 C161.43,446.22 162.75,447.30 166.00,447.50 C169.25,447.70 173.03,449.08 177.20,448.90 C181.37,448.72 185.47,447.28 191.00,446.40 C196.53,445.52 204.38,443.83 210.40,443.60 C216.42,443.37 221.08,444.32 227.10,445.00 C233.12,445.68 239.93,446.53 246.50,447.70 C253.07,448.87 263.17,451.28 266.50,452.00" fill="none" stroke="#111" stroke-width="1.3"/>
<path d="M73.50,335.90 L82.20,353.20 L100.90,367.40 L119.60,374.90 L137.80,387.30 L156.20,402.90 L174.50,415.80 L193.60,433.80 L211.80,434.50 L230.40,443.00 L249.40,445.20 L267.80,453.80 L286.20,455.90" fill="none" stroke="#c83a6c" stroke-width="1.5"/>
<circle cx="73.5" cy="335.9" r="4.5" fill="#c83a6c"/>
<circle cx="82.2" cy="353.2" r="4.5" fill="#c83a6c"/>
<circle cx="100.9" cy="367.4" r="4.5" fill="#c83a6c"/>
<circle cx="119.6" cy="374.9" r="4.5" fill="#c83a6c"/>
<circle cx="137.8" cy="387.3" r="4.5" fill="#c83a6c"/>
<circle cx="156.2" cy="402.9" r="4.5" fill="#c83a6c"/>
<circle cx="174.5" cy="415.8" r="4.5" fill="#c83a6c"/>
<circle cx="193.6" cy="433.8" r="4.5" fill="#c83a6c"/>
<circle cx="211.8" cy="434.5" r="4.5" fill="#c83a6c"/>
<circle cx="230.4" cy="443" r="4.5" fill="#c83a6c"/>
<circle cx="249.4" cy="445.2" r="4.5" fill="#c83a6c"/>
<circle cx="267.8" cy="453.8" r="4.5" fill="#c83a6c"/>
<circle cx="286.2" cy="455.9" r="4.5" fill="#c83a6c"/>
<text x="166" y="406.4" font-size="17" fill="#c83a6c">LiMnSbTe<tspan font-size="12" dy="3.5">3</tspan></text>
<text x="82.8" y="503.3" font-size="16.6" fill="#111" text-anchor="start" >MnTe</text>
<text x="222" y="496.4" font-size="17" fill="#8e8c1c">LiSbTe<tspan font-size="12" dy="4.5">2</tspan></text>
<text x="324" y="329.5" font-size="40" fill="#000">d</text>
<line x1="380.4" y1="537.40" x2="383.4" y2="537.40" stroke="#4a4a4a" stroke-width="1.0"/>
<text x="378.2" y="543.80" font-size="20" fill="#000" text-anchor="end" >0.0</text>
<line x1="380.4" y1="482.65" x2="383.4" y2="482.65" stroke="#4a4a4a" stroke-width="1.0"/>
<text x="378.2" y="489.05" font-size="20" fill="#000" text-anchor="end" >0.5</text>
<line x1="380.4" y1="427.90" x2="383.4" y2="427.90" stroke="#4a4a4a" stroke-width="1.0"/>
<text x="378.2" y="434.30" font-size="20" fill="#000" text-anchor="end" >1.0</text>
<line x1="380.4" y1="373.15" x2="383.4" y2="373.15" stroke="#4a4a4a" stroke-width="1.0"/>
<text x="378.2" y="379.55" font-size="20" fill="#000" text-anchor="end" >1.5</text>
<line x1="380.4" y1="318.40" x2="383.4" y2="318.40" stroke="#4a4a4a" stroke-width="1.0"/>
<text x="378.2" y="324.80" font-size="20" fill="#000" text-anchor="end" >2.0</text>
<line x1="380.4" y1="510.02" x2="382.59999999999997" y2="510.02" stroke="#4a4a4a" stroke-width="1.0"/>
<line x1="380.4" y1="455.27" x2="382.59999999999997" y2="455.27" stroke="#4a4a4a" stroke-width="1.0"/>
<line x1="380.4" y1="400.52" x2="382.59999999999997" y2="400.52" stroke="#4a4a4a" stroke-width="1.0"/>
<line x1="380.4" y1="345.77" x2="382.59999999999997" y2="345.77" stroke="#4a4a4a" stroke-width="1.0"/>
<line x1="407.70" y1="537.4" x2="407.70" y2="533.1999999999999" stroke="#4a4a4a" stroke-width="1.0"/>
<text x="407.70" y="556" font-size="20" fill="#000" text-anchor="middle" >400</text>
<line x1="444.90" y1="537.4" x2="444.90" y2="533.1999999999999" stroke="#4a4a4a" stroke-width="1.0"/>
<text x="444.90" y="556" font-size="20" fill="#000" text-anchor="middle" >600</text>
<line x1="482.10" y1="537.4" x2="482.10" y2="533.1999999999999" stroke="#4a4a4a" stroke-width="1.0"/>
<text x="482.10" y="556" font-size="20" fill="#000" text-anchor="middle" >800</text>
<line x1="389.10" y1="537.4" x2="389.10" y2="535.1999999999999" stroke="#4a4a4a" stroke-width="1.0"/>
<line x1="426.30" y1="537.4" x2="426.30" y2="535.1999999999999" stroke="#4a4a4a" stroke-width="1.0"/>
<line x1="463.50" y1="537.4" x2="463.50" y2="535.1999999999999" stroke="#4a4a4a" stroke-width="1.0"/>
<line x1="500.70" y1="537.4" x2="500.70" y2="535.1999999999999" stroke="#4a4a4a" stroke-width="1.0"/>
<line x1="561.40" y1="537.4" x2="561.40" y2="533.1999999999999" stroke="#4a4a4a" stroke-width="1.0"/>
<text x="561.40" y="555.5" font-size="20" fill="#000" text-anchor="middle" >200</text>
<line x1="613.40" y1="537.4" x2="613.40" y2="533.1999999999999" stroke="#4a4a4a" stroke-width="1.0"/>
<text x="613.40" y="555.5" font-size="20" fill="#000" text-anchor="middle" >400</text>
<line x1="535.40" y1="537.4" x2="535.40" y2="535.1999999999999" stroke="#4a4a4a" stroke-width="1.0"/>
<line x1="587.40" y1="537.4" x2="587.40" y2="535.1999999999999" stroke="#4a4a4a" stroke-width="1.0"/>
<line x1="639.4" y1="537.20" x2="635.1999999999999" y2="537.20" stroke="#4a4a4a" stroke-width="1.0"/>
<text x="643" y="543.70" font-size="20" fill="#000" text-anchor="start" >0</text>
<line x1="639.4" y1="493.40" x2="635.1999999999999" y2="493.40" stroke="#4a4a4a" stroke-width="1.0"/>
<text x="643" y="499.90" font-size="20" fill="#000" text-anchor="start" >2</text>
<line x1="639.4" y1="449.60" x2="635.1999999999999" y2="449.60" stroke="#4a4a4a" stroke-width="1.0"/>
<text x="643" y="456.10" font-size="20" fill="#000" text-anchor="start" >4</text>
<line x1="639.4" y1="405.80" x2="635.1999999999999" y2="405.80" stroke="#4a4a4a" stroke-width="1.0"/>
<text x="643" y="412.30" font-size="20" fill="#000" text-anchor="start" >6</text>
<line x1="639.4" y1="362.00" x2="635.1999999999999" y2="362.00" stroke="#4a4a4a" stroke-width="1.0"/>
<text x="643" y="368.50" font-size="20" fill="#000" text-anchor="start" >8</text>
<line x1="639.4" y1="318.20" x2="635.1999999999999" y2="318.20" stroke="#4a4a4a" stroke-width="1.0"/>
<text x="643" y="324.70" font-size="20" fill="#000" text-anchor="start" >10</text>
<line x1="639.4" y1="515.30" x2="637.1999999999999" y2="515.30" stroke="#4a4a4a" stroke-width="1.0"/>
<line x1="639.4" y1="471.50" x2="637.1999999999999" y2="471.50" stroke="#4a4a4a" stroke-width="1.0"/>
<line x1="639.4" y1="427.70" x2="637.1999999999999" y2="427.70" stroke="#4a4a4a" stroke-width="1.0"/>
<line x1="639.4" y1="383.90" x2="637.1999999999999" y2="383.90" stroke="#4a4a4a" stroke-width="1.0"/>
<line x1="639.4" y1="340.10" x2="637.1999999999999" y2="340.10" stroke="#4a4a4a" stroke-width="1.0"/>
<rect x="380.4" y="318.4" width="259.0" height="219.0" fill="none" stroke="#4a4a4a" stroke-width="1.0"/>
<line x1="510.3" y1="318.4" x2="510.3" y2="537.4" stroke="#6a6a6a" stroke-width="1.1"/>
<line x1="639.4" y1="318.4" x2="639.4" y2="537.4" stroke="#8a8a8a" stroke-width="1.4"/>
<text x="0" y="0" font-size="23" fill="#000" transform="translate(345,442) rotate(-90)" font-style="italic">ZT</text>
<text x="0" y="580" font-size="23" fill="#000"><tspan x="420.5" font-style="italic">T</tspan><tspan dx="-1"> (K)</tspan></text>
<text x="0" y="579.3" font-size="23" fill="#000"><tspan x="541">Δ</tspan><tspan font-style="italic" dx="1">T</tspan><tspan dx="-1"> (K)</tspan></text>
<text x="0" y="0" font-size="23" fill="#000" transform="translate(680,453) rotate(-90)"><tspan font-family="Liberation Serif, serif" font-style="italic">η</tspan><tspan> (%)</tspan></text>
<path d="M489.1,456.7 L489.1,388.5 L485.3,388.5 L495.7,378 L506.2,388.5 L500.9,388.5 L500.9,456.7 Z" fill="url(#gArrow)"/>
<path d="M389.50,536.80 C391.08,536.57 405.34,534.40 408.50,534.00 C411.66,533.60 424.72,532.40 427.40,532.00 C430.08,531.60 438.32,530.23 440.70,529.20 C443.07,528.18 453.84,521.60 455.90,519.70 C457.96,517.80 463.82,508.93 465.40,506.40 C466.98,503.87 473.32,492.23 474.90,489.30 C476.48,486.38 483.61,472.80 484.40,471.30" fill="none" stroke="#111" stroke-width="1"/>
<path d="M389.50,536.40 C391.08,536.15 405.34,534.00 408.50,533.40 C411.66,532.80 424.72,529.94 427.40,529.20 C430.08,528.46 438.01,526.08 440.70,524.50 C443.39,522.92 457.32,512.34 459.70,510.20 C462.07,508.06 467.77,500.38 469.20,498.80 C470.62,497.22 476.17,491.83 476.80,491.20" fill="none" stroke="#2a90d0" stroke-width="1"/>
<path d="M389.10,510.20 C389.87,509.50 391.35,508.22 393.70,506.00 C396.05,503.78 398.52,501.48 403.20,496.90 C407.88,492.32 415.60,484.82 421.80,478.50 C428.00,472.18 434.33,466.17 440.40,459.00 C446.47,451.83 452.07,445.52 458.20,435.50 C464.33,425.48 471.00,409.75 477.20,398.90 C483.40,388.05 492.37,375.15 495.40,370.40" fill="none" stroke="#ff0010" stroke-width="1.6"/>
<circle cx="389.1" cy="510.2" r="3.9" fill="#fa0010"/>
<circle cx="393.7" cy="506" r="3.9" fill="#fa0010"/>
<circle cx="403.2" cy="496.9" r="3.9" fill="#fa0010"/>
<circle cx="421.8" cy="478.5" r="3.9" fill="#fa0010"/>
<circle cx="440.4" cy="459" r="3.9" fill="#fa0010"/>
<circle cx="458.2" cy="435.5" r="3.9" fill="#fa0010"/>
<circle cx="477.2" cy="398.9" r="3.9" fill="#fa0010"/>
<circle cx="495.4" cy="370.4" r="3.9" fill="#fa0010"/>
<path d="M389.10,518.20 C389.87,517.98 391.35,518.23 393.70,516.90 C396.05,515.57 400.05,512.52 403.20,510.20 C406.35,507.88 409.57,505.30 412.60,503.00 C415.63,500.70 418.35,498.42 421.40,496.40 C424.45,494.38 427.73,492.65 430.90,490.90 C434.07,489.15 437.33,487.48 440.40,485.90 C443.47,484.32 446.33,484.37 449.30,481.40 C452.27,478.43 455.10,472.78 458.20,468.10 C461.30,463.42 464.73,459.05 467.90,453.30 C471.07,447.55 474.07,439.18 477.20,433.60 C480.33,428.02 483.67,424.32 486.70,419.80 C489.73,415.28 493.95,408.72 495.40,406.50" fill="none" stroke="#c83a6c" stroke-width="1.8"/>
<circle cx="389.1" cy="518.2" r="3.9" fill="#c83a6c"/>
<circle cx="393.7" cy="516.9" r="3.9" fill="#c83a6c"/>
<circle cx="403.2" cy="510.2" r="3.9" fill="#c83a6c"/>
<circle cx="412.6" cy="503" r="3.9" fill="#c83a6c"/>
<circle cx="421.4" cy="496.4" r="3.9" fill="#c83a6c"/>
<circle cx="430.9" cy="490.9" r="3.9" fill="#c83a6c"/>
<circle cx="440.4" cy="485.9" r="3.9" fill="#c83a6c"/>
<circle cx="449.3" cy="481.4" r="3.9" fill="#c83a6c"/>
<circle cx="458.2" cy="468.1" r="3.9" fill="#c83a6c"/>
<circle cx="467.9" cy="453.3" r="3.9" fill="#c83a6c"/>
<circle cx="477.2" cy="433.6" r="3.9" fill="#c83a6c"/>
<circle cx="486.7" cy="419.8" r="3.9" fill="#c83a6c"/>
<circle cx="495.4" cy="406.5" r="3.9" fill="#c83a6c"/>
<text x="391" y="394.5" font-size="14" fill="#111">LiMn<tspan font-size="10" dy="3">1-<tspan font-style="italic">x</tspan></tspan><tspan dy="-3">SbTe</tspan><tspan font-size="10" dy="3">3</tspan></text>
<path d="M442.6,381.8 L488,370.9" stroke="#111" stroke-width="0.9"/><path d="M492,369.9 L484.5,369.2 L486,374 Z" fill="#111"/>
<path d="M445.5,395.7 L481.5,414.6" stroke="#111" stroke-width="0.9"/><path d="M485.3,416.6 L478.5,411 L477.5,415.8 Z" fill="#111"/>
<text x="472" y="472" font-size="14" fill="#111" text-anchor="start" >MnTe</text>
<text x="457" y="505.5" font-size="13.5" fill="#2a90d0">LiSbTe<tspan font-size="9.5" dy="3">2</tspan></text>
<path d="M529.50,513.90 L555.60,475.80 L581.70,434.80 L620.60,375.70 L633.70,348.10" fill="none" stroke="#ff3050" stroke-width="1"/>
<circle cx="529.5" cy="513.9" r="3.9" fill="url(#gEta)"/>
<circle cx="555.6" cy="475.8" r="3.9" fill="url(#gEta)"/>
<circle cx="581.7" cy="434.8" r="3.9" fill="url(#gEta)"/>
<circle cx="620.6" cy="375.7" r="3.9" fill="url(#gEta)"/>
<circle cx="633.7" cy="348.1" r="3.9" fill="url(#gEta)"/>
</svg></body></html>
